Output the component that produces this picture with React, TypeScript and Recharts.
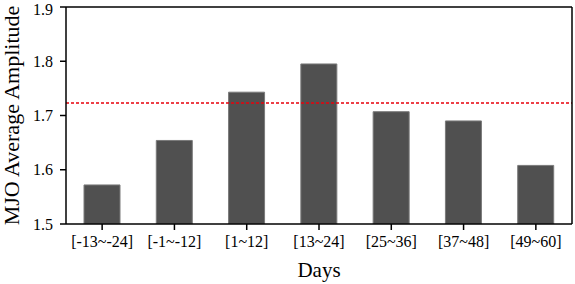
import React from 'react';
import { BarChart, Bar, XAxis, YAxis, ReferenceLine } from 'recharts';

const categories = ['[-13~-24]', '[-1~-12]', '[1~12]', '[13~24]', '[25~36]', '[37~48]', '[49~60]'];
const amplitudes = [1.572, 1.654, 1.743, 1.795, 1.707, 1.690, 1.608];
const yTicks = [1.5, 1.6, 1.7, 1.8, 1.9];
const averageLine = 1.723;

const data = categories.map((c, i) => ({ name: c, value: amplitudes[i] }));

const FONT = '"Liberation Serif", "Times New Roman", serif';

const XTick = (props: any) => {
  const { x, y, payload } = props;
  return (
    <text x={x} y={y} dy={11.4} textAnchor="middle" fill="#000" fontSize={16} fontFamily={FONT} style={{ fontFamily: FONT }}>
      {payload.value}
    </text>
  );
};

const YTick = (props: any) => {
  const { x, y, payload } = props;
  return (
    <text x={x} y={y} dy={5.7} textAnchor="end" fill="#000" fontSize={16} fontFamily={FONT} style={{ fontFamily: FONT }}>
      {Number(payload.value).toFixed(1)}
    </text>
  );
};

export default function App() {
  return (
    <div style={{ position: 'absolute', left: 0, top: 0, background: '#fff', fontFamily: FONT }}>
      <BarChart
        width={575}
        height={284}
        data={data}
        margin={{ top: 7, right: 3, left: 0, bottom: 0 }}
        barCategoryGap={0}
      >
        <XAxis
          dataKey="name"
          height={60}
          stroke="#000"
          strokeWidth={1.5}
          tickSize={6}
          tickMargin={6}
          tick={<XTick />}
          interval={0}
          label={{ value: 'Days', position: 'insideBottom', offset: 7, fill: '#000', fontSize: 21, fontFamily: FONT }}
        />
        <YAxis
          domain={[1.5, 1.9]}
          ticks={yTicks}
          width={66}
          stroke="#000"
          strokeWidth={1.5}
          tickSize={6}
          tickMargin={7}
          tick={<YTick />}
          allowDataOverflow
          label={{
            value: 'MJO Average Amplitude',
            angle: -90,
            position: 'insideLeft',
            offset: 11,
            textAnchor: 'middle',
            style: { textAnchor: 'middle', fontFamily: FONT },
            fill: '#000',
            fontSize: 22,
            fontFamily: FONT,
          }}
        />
        <Bar dataKey="value" fill="#505050" stroke="#7a7a7a" strokeWidth={1} barSize={36} isAnimationActive={false} />
        <ReferenceLine y={averageLine} stroke="#e8000b" strokeWidth={1.5} strokeDasharray="3 2" />
        <ReferenceLine y={1.9} stroke="#000" strokeWidth={1.5} ifOverflow="visible" />
        <ReferenceLine x={categories[categories.length - 1]} position="end" stroke="#000" strokeWidth={1.5} ifOverflow="visible" />
      </BarChart>
    </div>
  );
}
